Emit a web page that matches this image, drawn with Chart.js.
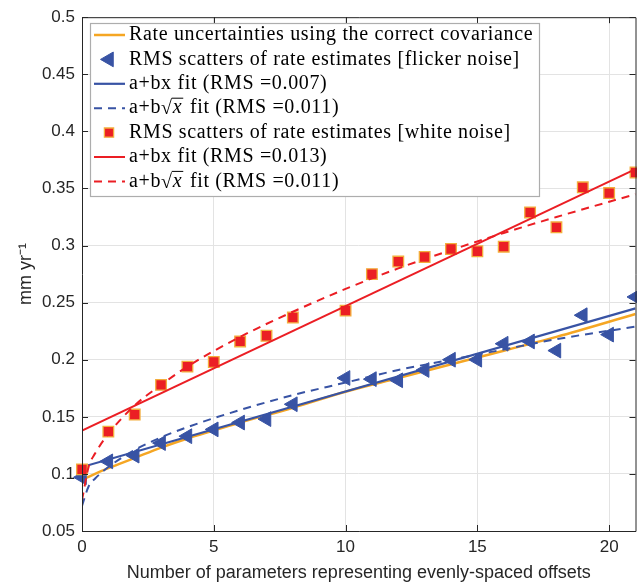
<!DOCTYPE html>
<html>
<head>
<meta charset="utf-8">
<script src="https://cdn.jsdelivr.net/npm/chart.js@4.4.0/dist/chart.umd.min.js"></script>
<style>
  html, body { margin: 0; padding: 0; background: #fff; overflow: hidden; }
  #wrap { width: 637px; height: 585px; overflow: hidden; }
</style>
</head>
<body>
<div id="wrap"><canvas id="chart" width="645" height="585"></canvas></div>
<script>
// number of offset parameters (no run at 9)
var offsets = [0, 1, 2, 3, 4, 5, 6, 7, 8, 10, 11, 12, 13, 14, 15, 16, 17, 18, 19, 20, 21];
var flickerRms = [0.097, 0.111, 0.116, 0.127, 0.133, 0.139, 0.145, 0.148, 0.161, 0.184, 0.183, 0.182, 0.191, 0.200, 0.200, 0.214, 0.216, 0.208, 0.239, 0.222, 0.255];
var whiteRms = [0.104, 0.137, 0.152, 0.178, 0.194, 0.198, 0.216, 0.221, 0.237, 0.243, 0.275, 0.286, 0.290, 0.297, 0.295, 0.299, 0.329, 0.316, 0.351, 0.346, 0.364];

// rate uncertainty from the correct covariance
var covX = [0, 1, 2, 3, 4, 5, 6, 8, 10, 12, 15, 18, 21];
var covRate = [0.095, 0.105, 0.114, 0.123, 0.131, 0.138, 0.145, 0.158, 0.172, 0.184, 0.202, 0.220, 0.240];

// fitted curves
var linFitX = [0, 21];
var flickerLinFit = [0.106, 0.245];
var whiteLinFit = [0.138, 0.367];
var sqrtFitX = [0, 0.25, 0.5, 1, 2, 3, 4, 6, 8, 10, 12, 14, 16, 18, 21];
var flickerSqrtFit = [0.072, 0.089, 0.096, 0.106, 0.121, 0.132, 0.141, 0.156, 0.169, 0.180, 0.191, 0.200, 0.209, 0.218, 0.229];
var whiteSqrtFit = [0.077, 0.106, 0.118, 0.135, 0.160, 0.178, 0.194, 0.220, 0.242, 0.262, 0.280, 0.296, 0.311, 0.325, 0.345];

var xTicks = [0, 5, 10, 15, 20];
var yTicks = [0.05, 0.1, 0.15, 0.2, 0.25, 0.3, 0.35, 0.4, 0.45, 0.5];

var labels = [
  'Rate uncertainties using the correct covariance',
  'RMS scatters of rate estimates [flicker noise]',
  'a+bx fit (RMS =0.007)',
  'a+b\u221Ax fit (RMS =0.011)',
  'RMS scatters of rate estimates [white noise]',
  'a+bx fit (RMS =0.013)',
  'a+b\u221Ax fit (RMS =0.011)'
];

var blue = '#3853a4';
var red = '#eb1e24';
var orange = '#f5a623';
var axisColor = '#262626';

function pts(xs, ys) {
  return xs.map(function(x, i) { return { x: x, y: ys[i] }; });
}

function lineSet(label, xs, ys, color, width, dash, order) {
  return {
    label: label, data: pts(xs, ys), showLine: true,
    borderColor: color, borderWidth: width, borderDash: dash || [],
    pointRadius: 0, tension: 0.4, cubicInterpolationMode: 'monotone',
    order: order
  };
}

var datasets = [
  lineSet(labels[0], covX, covRate, orange, 2.5, null, 6),
  {
    label: labels[1], data: pts(offsets, flickerRms), showLine: false,
    pointStyle: 'triangle', rotation: -90, pointRadius: 8.5,
    backgroundColor: blue, borderColor: blue, borderWidth: 1,
    clip: false, order: 5
  },
  lineSet(labels[2], linFitX, flickerLinFit, blue, 2.2, null, 4),
  lineSet(labels[3], sqrtFitX, flickerSqrtFit, blue, 2, [8, 6], 3),
  {
    label: labels[4], data: pts(offsets, whiteRms), showLine: false,
    pointStyle: 'rect', pointRadius: 7.5,
    backgroundColor: red, borderColor: '#f3ad3c', borderWidth: 1.3,
    clip: false, order: 2
  },
  lineSet(labels[5], linFitX, whiteLinFit, red, 2, null, 1),
  lineSet(labels[6], sqrtFitX, whiteSqrtFit, red, 2, [8, 6], 0)
];

// MATLAB style box with inward ticks
var boxPlugin = {
  id: 'box',
  afterDatasetsDraw: function(chart) {
    var ctx = chart.ctx, a = chart.chartArea;
    var xs = chart.scales.x, ys = chart.scales.y;
    ctx.save();
    ctx.strokeStyle = axisColor;
    ctx.lineWidth = 1;
    ctx.beginPath();
    ctx.rect(a.left + 0.5, a.top + 0.5, a.right - a.left, a.bottom - a.top);
    xTicks.forEach(function(v) {
      var px = Math.round(xs.getPixelForValue(v)) + 0.5;
      ctx.moveTo(px, a.bottom); ctx.lineTo(px, a.bottom - 6);
      ctx.moveTo(px, a.top); ctx.lineTo(px, a.top + 6);
    });
    yTicks.forEach(function(v) {
      var py = Math.round(ys.getPixelForValue(v)) + 0.5;
      ctx.moveTo(a.left, py); ctx.lineTo(a.left + 6, py);
      ctx.moveTo(a.right, py); ctx.lineTo(a.right - 6, py);
    });
    ctx.stroke();
    ctx.restore();
  }
};

var legendPlugin = {
  id: 'boxLegend',
  afterDraw: function(chart) {
    var ctx = chart.ctx;
    var bx = 90, by = 23, bw = 449, bh = 173;
    var rowH = 24.4, firstRow = 35;
    ctx.save();
    ctx.fillStyle = '#fff';
    ctx.fillRect(bx, by, bw, bh);
    ctx.strokeStyle = '#adadad';
    ctx.lineWidth = 1.2;
    ctx.strokeRect(bx + 0.5, by + 0.5, bw, bh);
    var font = '20px "Liberation Serif", serif';
    var italic = 'italic 20px "Liberation Serif", serif';
    chart.data.datasets.forEach(function(ds, i) {
      var y = firstRow + i * rowH;
      ctx.letterSpacing = '0px';
      if (ds.showLine) {
        ctx.beginPath();
        ctx.strokeStyle = ds.borderColor;
        ctx.lineWidth = ds.borderWidth;
        ctx.setLineDash(ds.borderDash);
        ctx.moveTo(94, y); ctx.lineTo(125, y);
        ctx.stroke();
        ctx.setLineDash([]);
      } else {
        ctx.fillStyle = ds.backgroundColor;
        ctx.strokeStyle = ds.borderColor;
        ctx.lineWidth = ds.borderWidth;
        Chart.helpers.drawPoint(ctx, {
          pointStyle: ds.pointStyle, rotation: ds.rotation || 0,
          radius: ds.pointStyle === 'rect' ? 6.5 : 8.5, borderWidth: ds.borderWidth
        }, 109, y);
      }
      ctx.fillStyle = '#000';
      ctx.textBaseline = 'middle';
      ctx.font = font;
      ctx.letterSpacing = '0.65px';
      var x = 129;
      var parts = ds.label.split('\u221Ax');
      ctx.fillText(parts[0], x, y);
      if (parts.length > 1) {
        x += ctx.measureText(parts[0]).width;
        ctx.fillText('\u221A', x, y + 1);
        x += ctx.measureText('\u221A').width - 1;
        ctx.font = italic;
        var wx = ctx.measureText('x').width;
        ctx.fillText('x', x + 1, y);
        ctx.lineWidth = 1;
        ctx.strokeStyle = '#000';
        ctx.beginPath();
        ctx.moveTo(x, y - 10); ctx.lineTo(x + wx + 2, y - 10);
        ctx.stroke();
        x += wx + 3;
        ctx.font = font;
        ctx.fillText(parts[1], x, y);
      }
    });
    ctx.restore();
  }
};

var tickFont = { family: '"Liberation Sans", Arial, sans-serif', size: 17 };
var titleFont = { family: '"Liberation Sans", Arial, sans-serif', size: 18 };

new Chart(document.getElementById('chart'), {
  type: 'scatter',
  data: { datasets: datasets },
  options: {
    responsive: false,
    animation: false,
    layout: { padding: { left: 0, top: 14, right: 7, bottom: 0 } },
    plugins: { legend: { display: false }, tooltip: { enabled: false } },
    scales: {
      x: {
        type: 'linear', min: 0, max: 21,
        afterBuildTicks: function(s) { s.ticks = xTicks.map(function(v) { return { value: v }; }); },
        afterFit: function(s) { s.height = 54; },
        grid: { color: '#e3e3e3', drawTicks: false, tickLength: 0 },
        border: { display: false },
        ticks: { font: tickFont, color: axisColor, padding: 6, maxRotation: 0 },
        title: {
          display: true, text: 'Number of parameters representing evenly-spaced offsets',
          font: titleFont, color: axisColor, padding: { top: 0, bottom: 1 }
        }
      },
      y: {
        type: 'linear', min: 0.05, max: 0.5,
        afterBuildTicks: function(s) { s.ticks = yTicks.map(function(v) { return { value: v }; }); },
        afterFit: function(s) { s.width = 82; },
        grid: { color: '#e3e3e3', drawTicks: false, tickLength: 0 },
        border: { display: false },
        ticks: {
          font: tickFont, color: axisColor, padding: 7,
          callback: function(v) { return String(+v.toFixed(2)); }
        },
        title: {
          display: true, text: 'mm yr\u207B\u00B9',
          font: titleFont, color: axisColor, padding: { top: 15, bottom: 0 }
        }
      }
    }
  },
  plugins: [boxPlugin, legendPlugin]
});
</script>
</body>
</html>
